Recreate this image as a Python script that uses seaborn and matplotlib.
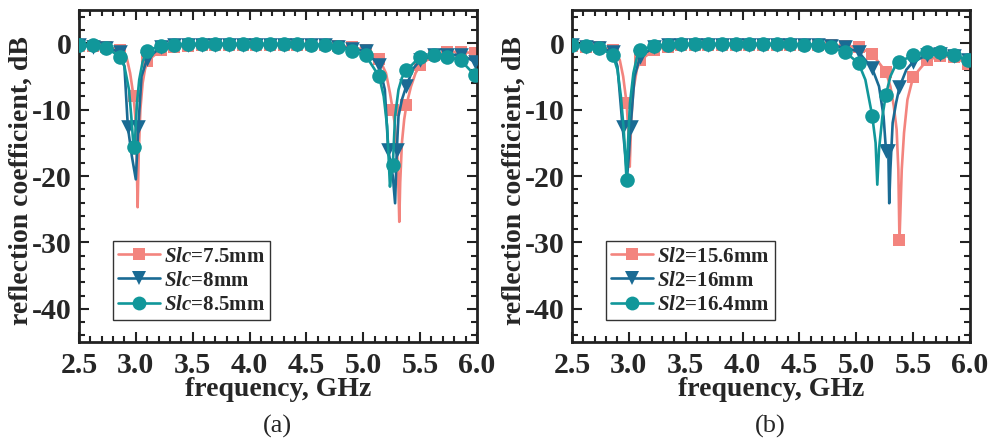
import numpy as np
import pandas as pd
import seaborn as sns
import matplotlib.pyplot as plt
from matplotlib.lines import Line2D
from matplotlib.ticker import MultipleLocator, FormatStrFormatter

# marker frequencies (GHz), shared by all curves
F_GRID = [2.50, 2.62, 2.74, 2.86, 2.98, 3.10, 3.22, 3.34, 3.46, 3.58,
          3.70, 3.82, 3.94, 4.06, 4.18, 4.30, 4.42, 4.54, 4.66, 4.78,
          4.90, 5.02, 5.14, 5.26, 5.38, 5.50, 5.62, 5.74, 5.86, 5.98]

# ---- panel (a): Slc sweep ----
A75_MK = [-0.4, -0.4, -0.5, -1.0, -8.0, -2.7, -1.0, -0.5, -0.4, -0.3,
          -0.3, -0.3, -0.3, -0.3, -0.3, -0.3, -0.3, -0.3, -0.3, -0.4,
          -0.6, -1.0, -2.3, -10.1, -9.3, -3.3, -1.8, -1.3, -1.3, -1.5]
A75_LF = [2.92, 2.95, 2.995, 3.005, 3.016, 3.025, 3.04, 3.06, 3.08,
          5.20, 5.235, 5.28, 5.30, 5.31, 5.317, 5.325, 5.34, 5.36, 5.42, 5.46]
A75_LV = [-2.2, -4.5, -11.0, -15.0, -24.7, -17.0, -10.0, -6.0, -4.0,
          -4.5, -7.5, -12.5, -17.0, -22.0, -26.9, -21.0, -15.0, -11.5, -6.5, -4.5]

A8_MK = [-0.3, -0.5, -0.7, -1.3, None, -2.3, -0.6, -0.3, -0.2, -0.2,
         -0.2, -0.2, -0.2, -0.2, -0.2, -0.2, -0.2, -0.2, -0.3, -0.5,
         -0.8, -1.2, -3.3, None, -6.4, -2.6, -1.8, -1.8, -1.7, -2.8]
A8_XF = [2.93, 3.022, 5.22, 5.295]
A8_XV = [-12.6, -12.6, -16.1, -16.1]
A8_LF = [2.90, 2.965, 3.00, 3.01, 3.05, 5.19, 5.26, 5.28, 5.31, 5.34, 5.44]
A8_LV = [-3.5, -17.0, -20.5, -17.0, -5.0, -7.0, -20.0, -24.1, -11.0, -8.5, -3.8]

A85_MK = [-0.2, -0.3, -0.7, -2.0, -15.6, -1.1, -0.4, -0.2, -0.1, -0.1,
          -0.1, -0.1, -0.1, -0.1, -0.1, -0.1, -0.1, -0.2, -0.3, -0.6,
          -1.1, -1.8, -5.0, -18.4, -4.1, -2.0, -1.8, -2.0, -2.6, -4.8]
A85_LF = [2.90, 2.94, 2.96, 2.985, 2.995, 3.01, 3.03, 3.06,
          5.18, 5.21, 5.235, 5.245, 5.28, 5.31, 5.34]
A85_LV = [-3.5, -7.0, -11.0, -16.2, -14.0, -9.0, -5.5, -2.8,
          -8.0, -12.5, -21.6, -20.0, -11.0, -7.0, -5.2]

# ---- panel (b): Sl2 sweep ----
B156_MK = [-0.4, -0.5, -0.6, -1.0, -9.0, -2.6, -1.0, -0.5, -0.3, -0.3,
           -0.3, -0.3, -0.3, -0.3, -0.3, -0.3, -0.3, -0.3, -0.3, -0.3,
           -0.4, -0.6, -1.6, -4.3, -29.7, -5.1, -2.6, -1.9, -2.1, -3.1]
B156_LF = [2.92, 2.95, 2.995, 3.008, 3.02, 3.04, 3.07,
           5.30, 5.33, 5.355, 5.37, 5.40, 5.42, 5.45]
B156_LV = [-2.5, -5.0, -13.0, -18.6, -12.0, -7.0, -4.0,
           -6.5, -9.5, -13.0, -19.0, -19.0, -13.5, -8.5]

B16_MK = [-0.3, -0.5, -0.7, -1.3, None, -2.0, -0.6, -0.3, -0.2, -0.2,
          -0.2, -0.2, -0.2, -0.2, -0.2, -0.2, -0.2, -0.2, -0.3, -0.4,
          -0.6, -1.3, -3.8, None, -6.6, -2.8, -1.8, -1.6, -1.9, -2.5]
B16_XF = [2.945, 3.015, 5.262, 5.282]
B16_XV = [-12.6, -12.6, -16.3, -16.3]
B16_LF = [2.90, 2.97, 2.985, 3.00, 3.05, 5.20, 5.24, 5.29, 5.30, 5.32, 5.35, 5.44]
B16_LV = [-3.5, -17.0, -20.0, -17.0, -5.0, -6.5, -11.0, -24.1, -19.0, -12.0, -9.0, -4.0]

B164_MK = [-0.2, -0.4, -0.7, -1.8, -20.6, -1.0, -0.4, -0.2, -0.1, -0.1,
           -0.1, -0.1, -0.1, -0.1, -0.1, -0.1, -0.1, -0.2, -0.3, -0.6,
           -1.3, -3.0, -10.9, -7.8, -2.8, -1.8, -1.3, -1.3, -1.7, -2.6]
B164_LF = [2.90, 2.93, 2.955, 2.99, 3.01, 3.04, 3.07,
           5.08, 5.17, 5.185, 5.20, 5.23, 5.30, 5.34]
B164_LV = [-4.0, -8.0, -13.0, -16.0, -9.0, -4.5, -2.2,
           -5.5, -15.0, -21.3, -16.0, -11.0, -5.0, -3.5]

COLORS = ['#F3847E', '#1A6B94', '#11979A']
MARKERS = ['s', 'v', 'o']
MSIZES = [8.5, 10.5, 10.5]
LABELS_A = [r'$\mathit{Slc}$=7.5mm', r'$\mathit{Slc}$=8mm', r'$\mathit{Slc}$=8.5mm']
LABELS_B = [r'$\mathit{Sl2}$=15.6mm', r'$\mathit{Sl2}$=16mm', r'$\mathit{Sl2}$=16.4mm']


def build(mk, lf, lv, xf=(), xv=()):
    marks = [(f, v) for f, v in zip(F_GRID, mk) if v is not None]
    marks += list(zip(xf, xv))
    mdf = pd.DataFrame(marks, columns=['freq', 'db'])
    ldf = pd.concat([mdf, pd.DataFrame({'freq': lf, 'db': lv})])
    ldf = ldf.sort_values('freq').reset_index(drop=True)
    return ldf, mdf


sns.set_style('ticks')
plt.rcParams['font.family'] = ['Liberation Serif', 'DejaVu Serif']
plt.rcParams['font.weight'] = 'bold'
plt.rcParams['axes.unicode_minus'] = False
plt.rcParams['mathtext.fontset'] = 'custom'
plt.rcParams['mathtext.it'] = 'Liberation Serif:italic:bold'
plt.rcParams['mathtext.rm'] = 'Liberation Serif:bold'

fig = plt.figure(figsize=(9.92, 4.44), dpi=100)
ax_a = fig.add_axes([0.0796, 0.2297, 0.4012, 0.7477])
ax_b = fig.add_axes([0.5766, 0.2297, 0.4012, 0.7477])

panels = [
    (ax_a, [build(A75_MK, A75_LF, A75_LV),
            build(A8_MK, A8_LF, A8_LV, A8_XF, A8_XV),
            build(A85_MK, A85_LF, A85_LV)], LABELS_A, '(a)', 0.280),
    (ax_b, [build(B156_MK, B156_LF, B156_LV),
            build(B16_MK, B16_LF, B16_LV, B16_XF, B16_XV),
            build(B164_MK, B164_LF, B164_LV)], LABELS_B, '(b)', 0.776),
]

for ax, series, labels, tag, tx in panels:
    handles = []
    for i, (ldf, mdf) in enumerate(series):
        sns.lineplot(data=ldf, x='freq', y='db', ax=ax, color=COLORS[i],
                     lw=1.9, sort=False, estimator=None, zorder=2 + i)
        sns.scatterplot(data=mdf, x='freq', y='db', ax=ax, color=COLORS[i],
                        marker=MARKERS[i], s=MSIZES[i] ** 2, linewidth=0,
                        zorder=2.5 + i)
        handles.append(Line2D([], [], color=COLORS[i], lw=1.9,
                              marker=MARKERS[i], ms=MSIZES[i] * 0.95, mew=0))

    ax.set_xlim(2.5, 6.0)
    ax.set_ylim(-45, 5)
    ax.xaxis.set_major_locator(MultipleLocator(0.5))
    ax.xaxis.set_minor_locator(MultipleLocator(0.1))
    ax.xaxis.set_major_formatter(FormatStrFormatter('%.1f'))
    ax.yaxis.set_major_locator(MultipleLocator(10))
    ax.yaxis.set_minor_locator(MultipleLocator(2))
    ax.tick_params(which='both', direction='in', top=True, right=True,
                   width=1.5, color='#222222')
    ax.tick_params(which='major', length=7)
    ax.tick_params(which='minor', length=4)
    ax.tick_params(axis='x', which='major', pad=7, labelsize=21.5)
    ax.tick_params(axis='y', which='major', pad=5, labelsize=21.5)
    for sp in ax.spines.values():
        sp.set_linewidth(2)
        sp.set_color('#222222')

    ax.set_xlabel('frequency, GHz', fontsize=20, fontweight='bold')
    ax.set_ylabel('reflection coefficient, dB', fontsize=20, fontweight='bold')
    ax.xaxis.set_label_coords(0.5, -0.105)
    ax.yaxis.set_label_coords(-0.115, 0.485)

    leg = ax.legend(handles, labels, loc='lower left', bbox_to_anchor=(0.085, 0.066),
                    borderaxespad=0, fancybox=False, framealpha=1, edgecolor='#333333',
                    handlelength=2.0, handletextpad=0.2, labelspacing=0.2,
                    borderpad=0.25, prop={'size': 15, 'weight': 'bold'})
    leg.get_frame().set_linewidth(1.0)

    fig.text(tx, 0.04, tag, ha='center', va='center', fontsize=19,
             fontweight='normal')

fig.savefig('out.png', dpi=100)
